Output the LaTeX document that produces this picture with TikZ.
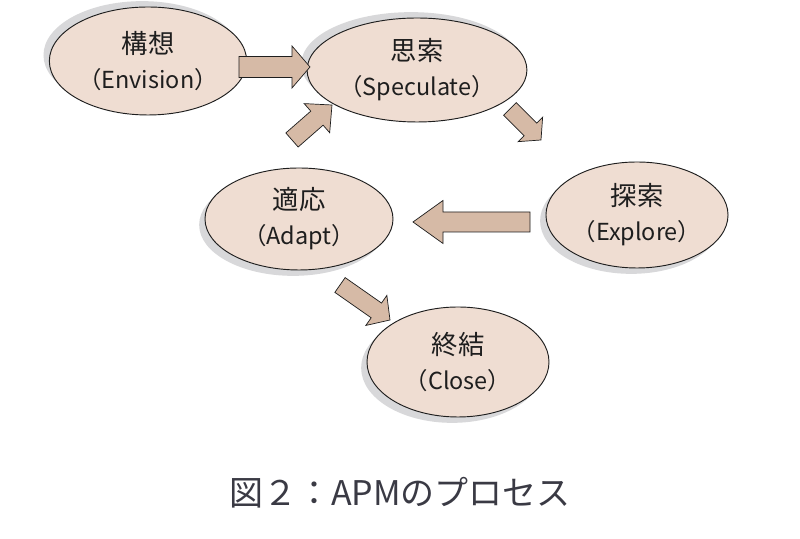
\documentclass[tikz,border=0pt]{standalone}
\usepackage{fontspec}
\setmainfont{Noto Sans CJK JP}
\usepackage{tikz}
\usetikzlibrary{calc,shapes.geometric,shadows}
\definecolor{Peach}{HTML}{EFDDD2}
\definecolor{Tan}{HTML}{D6BAA6}
\definecolor{Ink}{HTML}{1E1E1E}
\definecolor{Caption}{HTML}{3A3A44}
\definecolor{ShadowGrey}{HTML}{D8D8DA}
\tikzset{
  phase/.style 2 args={draw=Ink, ellipse, thick, fill=Peach, align=center, inner sep=0pt,
    minimum width=#1*0.03cm, minimum height=#2*0.03cm, text=Ink,
    font=\fontsize{20}{30}\selectfont},
  shadowul/.style={drop shadow={shadow xshift=-5pt, shadow yshift=5pt, fill=ShadowGrey, opacity=1}},
  shadowdl/.style={drop shadow={shadow xshift=-5pt, shadow yshift=-5pt, fill=ShadowGrey, opacity=1}},
  blockarrow/.style={draw=Ink, fill=Tan, semithick, line join=miter}
}
% Japanese name a little larger than the English one
\newcommand{\phasetext}[2]{{\fontsize{22.5}{30}\selectfont #1}\\（#2）}
% tail, tip, shaft half width, head half width, head length
\newcommand{\fatarrow}[5]{%
  \coordinate (fah) at ($(#2)!#5!(#1)$);
  \draw[blockarrow] ($(#1)!#3!90:(#2)$) -- ($(fah)!#3!90:(#2)$) -- ($(fah)!#4!90:(#2)$) -- (#2)
    -- ($(fah)!#4!-90:(#2)$) -- ($(fah)!#3!-90:(#2)$) -- ($(#1)!#3!-90:(#2)$) -- cycle;}

\begin{document}
\begin{tikzpicture}[x=0.03cm, y=0.03cm]
  \useasboundingbox[fill=white] (0,0) rectangle (800,539);

  \node[phase={168}{108}, shadowul] (envision) at (148,478) {\phasetext{構想}{Envision}};
  \node[phase={176}{104}, shadowul] (speculate) at (417,469) {\phasetext{思索}{Speculate}};
  \node[phase={166}{106}, shadowdl] (explore) at (637,324) {\phasetext{探索}{Explore}};
  \node[phase={188}{102}, shadowdl] (adapt) at (299,320) {\phasetext{適応}{Adapt}};
  \node[phase={182}{110}, shadowdl] (close) at (458,177) {\phasetext{終結}{Close}};

  \node[text=Caption, font=\fontsize{29}{34}\selectfont] (caption) at (400,46) {図２：APMのプロセス};

  % ends of the block arrows
  \coordinate (envT) at (239,472);  \coordinate (envP) at (310,472);
  \coordinate (adaT) at (292,399);  \coordinate (adaP) at (332,434);
  \coordinate (speT) at (510,430);  \coordinate (speP) at (541,399);
  \coordinate (expT) at (530,317);  \coordinate (expP) at (413,317);
  \coordinate (cloT) at (340,254);  \coordinate (cloP) at (390,219);

  \fatarrow{envT}{envP}{0.315cm}{0.63cm}{0.54cm}
  \fatarrow{adaT}{adaP}{0.28cm}{0.58cm}{0.6cm}
  \fatarrow{speT}{speP}{0.27cm}{0.52cm}{0.45cm}
  \fatarrow{expT}{expP}{0.3cm}{0.645cm}{0.9cm}
  \fatarrow{cloT}{cloP}{0.27cm}{0.55cm}{0.5cm}
\end{tikzpicture}
\end{document}
